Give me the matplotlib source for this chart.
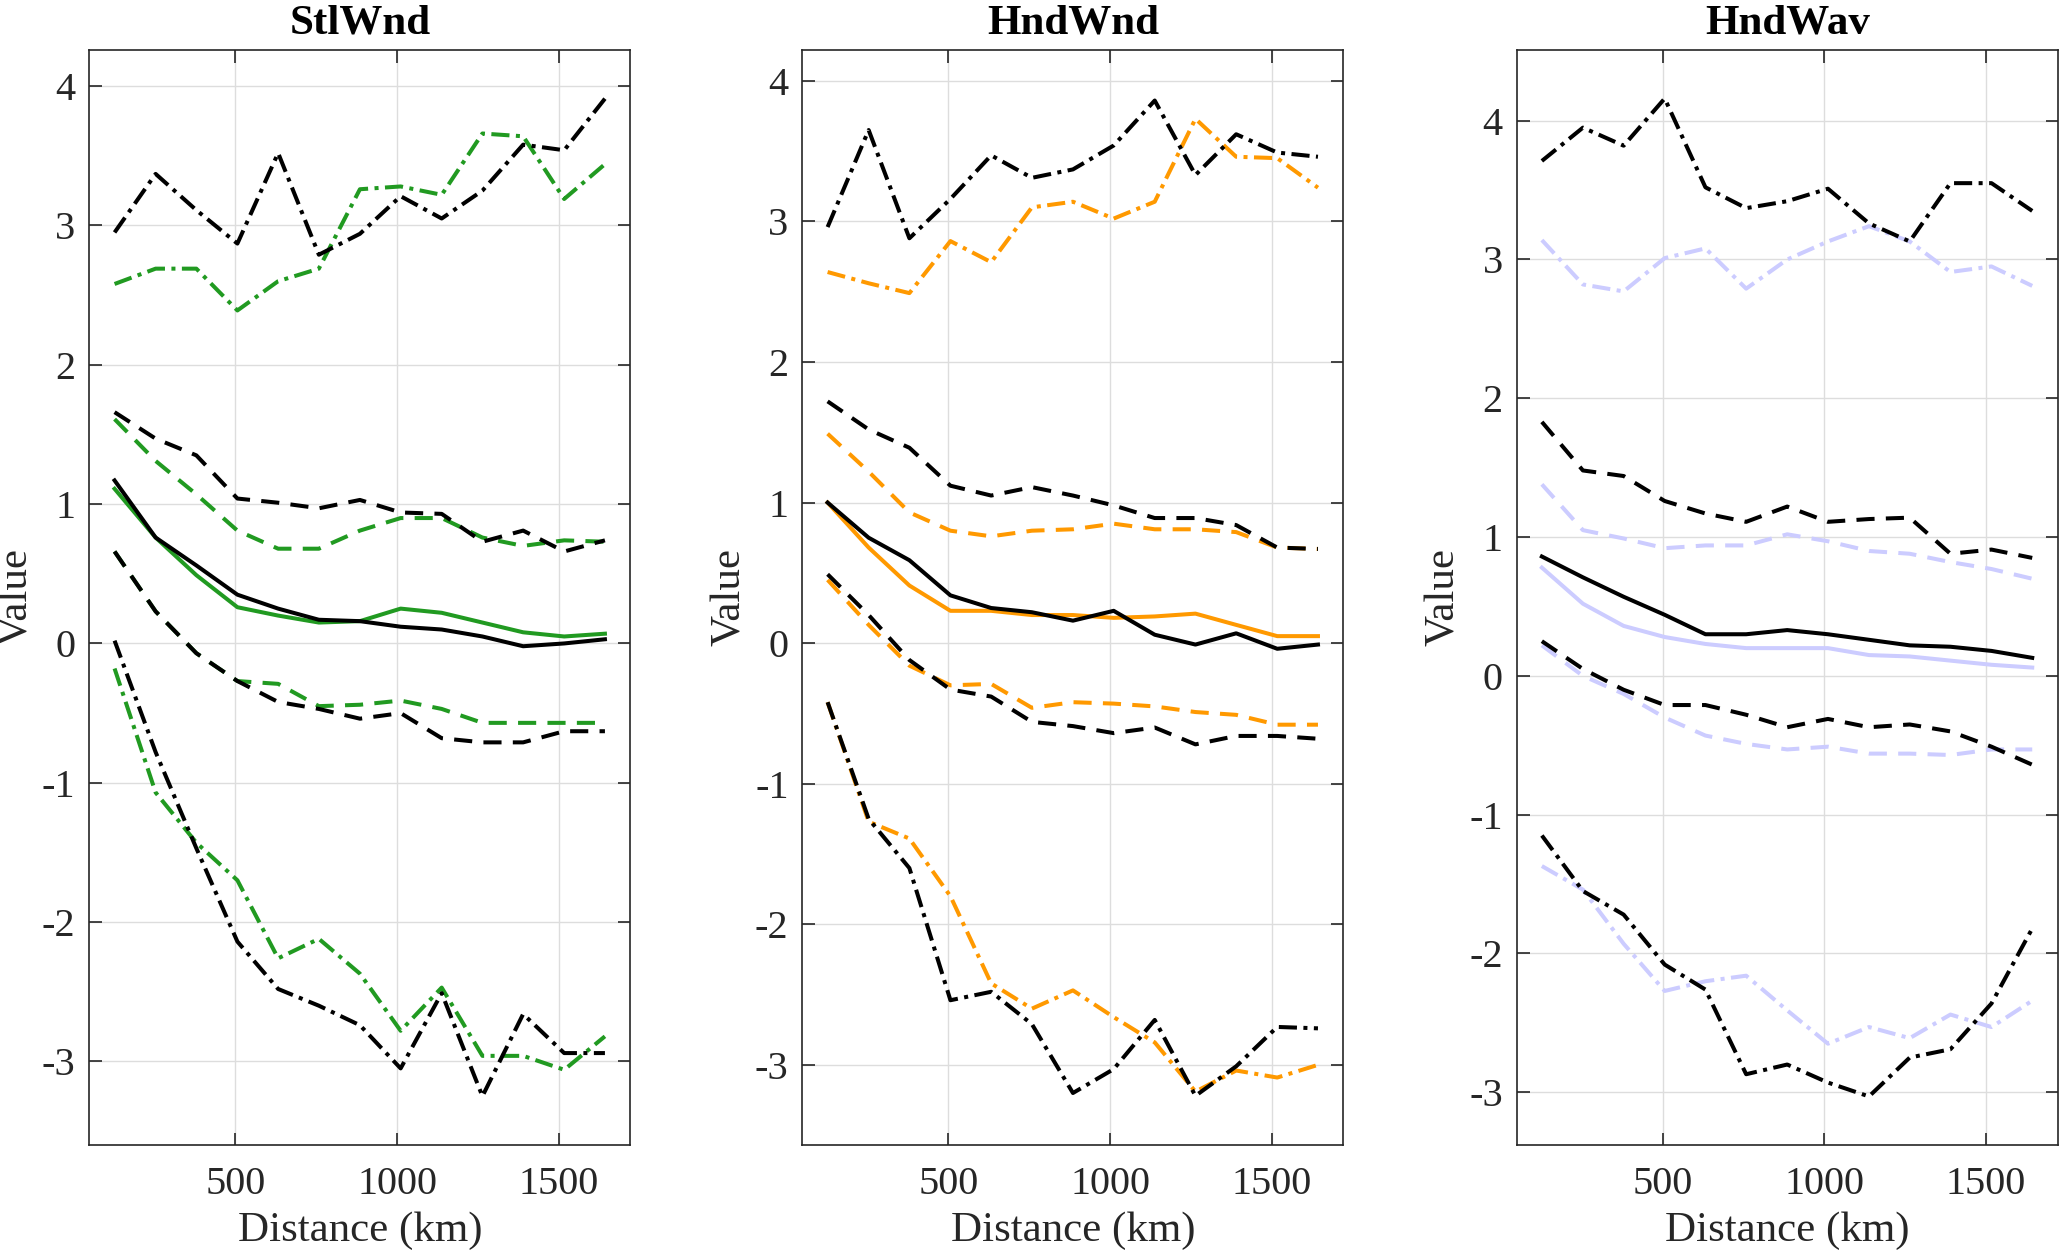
import matplotlib
matplotlib.use('Agg')
import matplotlib.pyplot as plt

plt.rcParams['font.family'] = ['Liberation Serif', 'DejaVu Serif']
plt.rcParams['axes.unicode_minus'] = False

# Distance of each bin (km)
distance = [126, 253, 379, 506, 632, 758, 885, 1011, 1138, 1264, 1390, 1517, 1643]

titles = ['StlWnd', 'HndWnd', 'HndWav']
colors = ['#219a21', '#ff9900', '#ccccff']

# StlWnd
stl_ref_hi2 = [2.95, 3.37, 3.11, 2.87, 3.52, 2.79, 2.94, 3.21, 3.05, 3.25, 3.58, 3.54, 3.91]
stl_ref_hi1 = [1.66, 1.47, 1.35, 1.04, 1.01, 0.97, 1.03, 0.94, 0.93, 0.73, 0.81, 0.66, 0.74]
stl_ref_med = [1.17, 0.76, 0.56, 0.35, 0.25, 0.17, 0.16, 0.12, 0.10, 0.05, -0.02, 0.00, 0.03]
stl_ref_lo1 = [0.66, 0.23, -0.07, -0.27, -0.42, -0.47, -0.54, -0.50, -0.68, -0.71, -0.71, -0.63, -0.63]
stl_ref_lo2 = [0.02, -0.78, -1.47, -2.14, -2.48, -2.60, -2.74, -3.05, -2.51, -3.25, -2.66, -2.94, -2.94]
stl_hi2 = [2.58, 2.69, 2.69, 2.39, 2.60, 2.69, 3.26, 3.28, 3.22, 3.66, 3.64, 3.19, 3.44]
stl_hi1 = [1.61, 1.31, 1.07, 0.81, 0.68, 0.68, 0.81, 0.90, 0.90, 0.76, 0.70, 0.74, 0.73]
stl_med = [1.11, 0.76, 0.49, 0.26, 0.20, 0.15, 0.16, 0.25, 0.22, 0.15, 0.08, 0.05, 0.07]
stl_lo1 = [0.66, 0.23, -0.07, -0.27, -0.29, -0.45, -0.44, -0.41, -0.47, -0.57, -0.57, -0.57, -0.57]
stl_lo2 = [-0.18, -1.07, -1.43, -1.70, -2.26, -2.12, -2.37, -2.78, -2.47, -2.96, -2.96, -3.06, -2.82]

# HndWnd
hwn_ref_hi2 = [2.96, 3.65, 2.88, 3.16, 3.47, 3.31, 3.37, 3.54, 3.86, 3.33, 3.62, 3.49, 3.46]
hwn_ref_hi1 = [1.72, 1.52, 1.39, 1.12, 1.05, 1.11, 1.05, 0.98, 0.89, 0.89, 0.84, 0.68, 0.67]
hwn_ref_med = [1.00, 0.75, 0.59, 0.34, 0.25, 0.22, 0.16, 0.23, 0.06, -0.01, 0.07, -0.04, -0.01]
hwn_ref_lo1 = [0.49, 0.20, -0.12, -0.33, -0.38, -0.56, -0.59, -0.64, -0.60, -0.72, -0.66, -0.66, -0.68]
hwn_ref_lo2 = [-0.42, -1.25, -1.60, -2.54, -2.48, -2.71, -3.20, -3.03, -2.68, -3.22, -3.01, -2.73, -2.74]
hwn_hi2 = [2.64, 2.56, 2.49, 2.86, 2.71, 3.10, 3.14, 3.02, 3.14, 3.73, 3.46, 3.45, 3.24]
hwn_hi1 = [1.49, 1.22, 0.93, 0.80, 0.76, 0.80, 0.81, 0.85, 0.81, 0.81, 0.79, 0.68, 0.67]
hwn_med = [1.00, 0.68, 0.41, 0.23, 0.23, 0.20, 0.20, 0.18, 0.19, 0.21, 0.13, 0.05, 0.05]
hwn_lo1 = [0.45, 0.13, -0.16, -0.30, -0.29, -0.46, -0.42, -0.43, -0.45, -0.49, -0.51, -0.58, -0.58]
hwn_lo2 = [-0.42, -1.27, -1.39, -1.80, -2.42, -2.60, -2.47, -2.66, -2.84, -3.19, -3.04, -3.09, -3.00]

# HndWav
hwv_ref_hi2 = [3.71, 3.95, 3.82, 4.16, 3.52, 3.37, 3.42, 3.51, 3.26, 3.13, 3.55, 3.55, 3.35]
hwv_ref_hi1 = [1.83, 1.48, 1.44, 1.26, 1.17, 1.11, 1.22, 1.11, 1.13, 1.14, 0.88, 0.91, 0.85]
hwv_ref_med = [0.86, 0.71, 0.57, 0.44, 0.30, 0.30, 0.33, 0.30, 0.26, 0.22, 0.21, 0.18, 0.13]
hwv_ref_lo1 = [0.25, 0.05, -0.10, -0.21, -0.21, -0.28, -0.37, -0.31, -0.37, -0.35, -0.40, -0.51, -0.64]
hwv_ref_lo2 = [-1.15, -1.55, -1.72, -2.08, -2.26, -2.87, -2.80, -2.93, -3.03, -2.75, -2.69, -2.36, -1.82]
hwv_hi2 = [3.14, 2.82, 2.77, 3.01, 3.08, 2.79, 3.00, 3.13, 3.24, 3.13, 2.91, 2.95, 2.81]
hwv_hi1 = [1.38, 1.05, 0.99, 0.92, 0.94, 0.94, 1.02, 0.97, 0.90, 0.88, 0.82, 0.77, 0.70]
hwv_med = [0.78, 0.52, 0.36, 0.28, 0.23, 0.20, 0.20, 0.20, 0.15, 0.14, 0.11, 0.08, 0.06]
hwv_lo1 = [0.22, 0.00, -0.13, -0.30, -0.43, -0.49, -0.53, -0.51, -0.56, -0.56, -0.57, -0.53, -0.53]
hwv_lo2 = [-1.37, -1.54, -1.93, -2.27, -2.20, -2.16, -2.41, -2.65, -2.53, -2.61, -2.44, -2.53, -2.34]

ref_sets = [
    [stl_ref_hi2, stl_ref_hi1, stl_ref_med, stl_ref_lo1, stl_ref_lo2],
    [hwn_ref_hi2, hwn_ref_hi1, hwn_ref_med, hwn_ref_lo1, hwn_ref_lo2],
    [hwv_ref_hi2, hwv_ref_hi1, hwv_ref_med, hwv_ref_lo1, hwv_ref_lo2],
]
model_sets = [
    [stl_hi2, stl_hi1, stl_med, stl_lo1, stl_lo2],
    [hwn_hi2, hwn_hi1, hwn_med, hwn_lo1, hwn_lo2],
    [hwv_hi2, hwv_hi1, hwv_med, hwv_lo1, hwv_lo2],
]
ylims = [(-3.60, 4.26), (-3.57, 4.22), (-3.38, 4.51)]

dashed = (0, (4.5, 2.8))
dashdot = (0, (4.5, 1.6, 1.0, 1.6))
styles = [dashdot, dashed, '-', dashed, dashdot]

fig = plt.figure(figsize=(20.59, 12.54), dpi=100)
lefts = [0.0434, 0.3897, 0.7366]
ink = '#262626'

for i in range(3):
    ax = fig.add_axes([lefts[i], 0.0869, 0.2628, 0.8733])
    for ref, mod, ls in zip(ref_sets[i], model_sets[i], styles):
        ax.plot(distance, mod, color=colors[i], linestyle=ls, lw=2.9)
        ax.plot(distance, ref, color='black', linestyle=ls, lw=2.9)
    ax.set_xlim(48, 1722)
    ax.set_ylim(*ylims[i])
    ax.set_xticks([500, 1000, 1500])
    ax.set_yticks(range(-3, 5))
    ax.grid(True, color='#dddddd', lw=1.0)
    ax.set_axisbelow(True)
    ax.tick_params(direction='in', length=9, width=1.2, colors=ink,
                   labelsize=29, top=True, right=True, pad=10)
    ax.tick_params(axis='x', pad=15)
    for sp in ax.spines.values():
        sp.set_color(ink)
        sp.set_linewidth(1.2)
    ax.set_title(titles[i], fontsize=31, fontweight='bold', pad=12)
    ax.set_xlabel('Distance (km)', fontsize=31, color=ink, labelpad=6)
    ax.set_ylabel('Value', fontsize=31, color=ink, labelpad=4)

fig.savefig('out.png', dpi=100)
